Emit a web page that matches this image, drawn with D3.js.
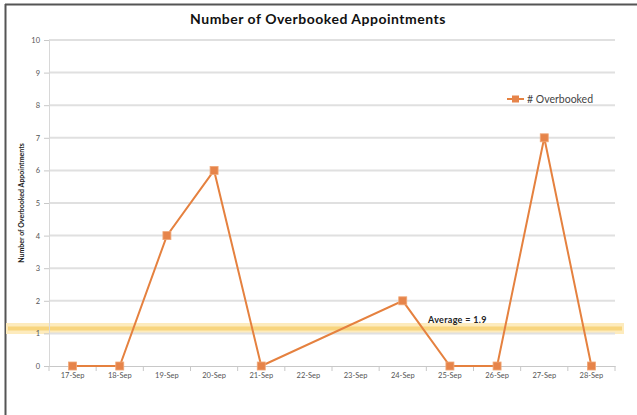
<!DOCTYPE html>
<html>
<head>
<meta charset="utf-8">
<script src="https://cdn.jsdelivr.net/npm/d3@7"></script>
<style>
  body { margin: 0; background: #fff; }
  svg { display: block; }
</style>
</head>
<body>
<svg id="chart"></svg>
<script>
// chart data
const days = ["17-Sep", "18-Sep", "19-Sep", "20-Sep", "21-Sep", "22-Sep",
  "23-Sep", "24-Sep", "25-Sep", "26-Sep", "27-Sep", "28-Sep"];
const overbooked = [0, 0, 4, 6, 0, null, null, 2, 0, 0, 7, 0];
const yTicks = [0, 1, 2, 3, 4, 5, 6, 7, 8, 9, 10];
const avgBand = [1.15]; // where the highlight band sits in the picture
const avgLabel = "Average = 1.9";
const seriesName = "# Overbooked";

const width = 637;
const height = 415;
const margin = { top: 40, right: 22, bottom: 49, left: 49 };
const font = "Lato, 'DejaVu Sans', sans-serif";
const orange = "#e5813f";

const svg = d3.select("#chart").attr("width", width).attr("height", height);

// frame lines (top + left)
svg.append("line").attr("x1", 5).attr("x2", width).attr("y1", 4.5).attr("y2", 4.5)
  .attr("stroke", "#555").attr("stroke-width", 2);
svg.append("line").attr("x1", 5.5).attr("x2", 5.5).attr("y1", 4).attr("y2", height)
  .attr("stroke", "#555").attr("stroke-width", 2);

const xScale = d3.scaleBand()
  .domain(days)
  .range([margin.left, width - margin.right]);

const yScale = d3.scaleLinear()
  .domain([0, 10])
  .range([height - margin.bottom, margin.top]);

// average band (soft glow + core), drawn first so labels sit on top
const band = svg.append("g");
band.selectAll("rect")
  .data(avgBand)
  .enter()
  .append("rect")
  .attr("x", 6)
  .attr("width", 618)
  .attr("y", (d) => yScale(d) - 5.5)
  .attr("height", 11)
  .attr("fill", "#fdebbd");
band.selectAll("line")
  .data(avgBand)
  .enter()
  .append("line")
  .attr("x1", 8)
  .attr("x2", 622)
  .attr("y1", (d) => yScale(d))
  .attr("y2", (d) => yScale(d))
  .attr("stroke", "#f8d57e")
  .attr("stroke-width", 4);

// gridlines
svg.append("g")
  .selectAll("line")
  .data(yTicks.filter((d) => d > 0))
  .enter()
  .append("line")
  .attr("x1", margin.left)
  .attr("x2", width - margin.right)
  .attr("y1", (d) => yScale(d))
  .attr("y2", (d) => yScale(d))
  .attr("stroke", "#e0e0e0")
  .attr("stroke-width", 2);

// y axis
const yAxis = d3.axisLeft(yScale).tickValues(yTicks).tickSize(5).tickPadding(4);
const gy = svg.append("g")
  .attr("transform", "translate(" + margin.left + ",0)")
  .call(yAxis);
gy.select(".domain").attr("stroke", "#d8d8d8");
gy.selectAll(".tick line").attr("stroke", "#c8c8c8");
gy.selectAll("text").attr("fill", "#555").style("font-family", font).style("font-size", "7.5px");

// x axis
const xAxis = d3.axisBottom(xScale).tickSize(0).tickPadding(7);
const gx = svg.append("g")
  .attr("transform", "translate(0," + (height - margin.bottom) + ")")
  .call(xAxis);
gx.select(".domain").attr("stroke", "#c8c8c8").attr("stroke-width", 1.2);
gx.selectAll("text").attr("fill", "#555").style("font-family", font).style("font-size", "7.5px");
// tick marks between categories
gx.selectAll(".sep")
  .data(days.concat(["end"]))
  .enter()
  .append("line")
  .attr("x1", (d, i) => margin.left + i * xScale.step())
  .attr("x2", (d, i) => margin.left + i * xScale.step())
  .attr("y1", 0)
  .attr("y2", 5)
  .attr("stroke", "#c8c8c8");

svg.append("text")
  .attr("x", 428)
  .attr("y", yScale(avgBand[0]) - 6)
  .style("font-family", font)
  .style("font-size", "9px")
  .style("font-weight", "bold")
  .style("letter-spacing", "0.3px")
  .attr("fill", "#222")
  .text(avgLabel);

// series line: skips the days with no value
const points = overbooked.map((v, i) => ({ day: days[i], v: v })).filter((d) => d.v !== null);
const lineThrough = d3.line()
  .x((d) => xScale(d.day) + xScale.bandwidth() / 2)
  .y((d) => yScale(d.v));

svg.append("path")
  .datum(points)
  .attr("d", lineThrough)
  .attr("fill", "none")
  .attr("stroke", orange)
  .attr("stroke-width", 2);

svg.selectAll(".pt")
  .data(points)
  .enter()
  .append("rect")
  .attr("class", "pt")
  .attr("x", (d) => xScale(d.day) + xScale.bandwidth() / 2 - 4)
  .attr("y", (d) => yScale(d.v) - 4)
  .attr("width", 8)
  .attr("height", 8)
  .attr("fill", "#e6844a")
  .attr("stroke", "#f0a878")
  .attr("stroke-width", 0.8);

// y axis title
svg.append("text")
  .attr("transform", "translate(24," + ((margin.top + height - margin.bottom) / 2) + ") rotate(-90)")
  .attr("text-anchor", "middle")
  .style("font-family", font)
  .style("font-size", "7px")
  .style("font-weight", "bold")
  .attr("fill", "#222")
  .text("Number of Overbooked Appointments");

// title
svg.append("text")
  .attr("x", 318)
  .attr("y", 24)
  .attr("text-anchor", "middle")
  .style("font-family", font)
  .style("font-size", "14px")
  .style("font-weight", "bold")
  .style("letter-spacing", "0.5px")
  .attr("fill", "#111")
  .text("Number of Overbooked Appointments");

// legend
const legend = svg.append("g").attr("transform", "translate(507,99)");
legend.append("line").attr("x1", 0).attr("x2", 17).attr("stroke", orange).attr("stroke-width", 2);
legend.append("rect").attr("x", 5).attr("y", -3.5).attr("width", 7).attr("height", 7)
  .attr("fill", "#e6844a");
legend.append("text")
  .attr("x", 20)
  .attr("y", 3.5)
  .style("font-family", font)
  .style("font-size", "10.5px")
  .attr("fill", "#444")
  .text(seriesName);
</script>
</body>
</html>
